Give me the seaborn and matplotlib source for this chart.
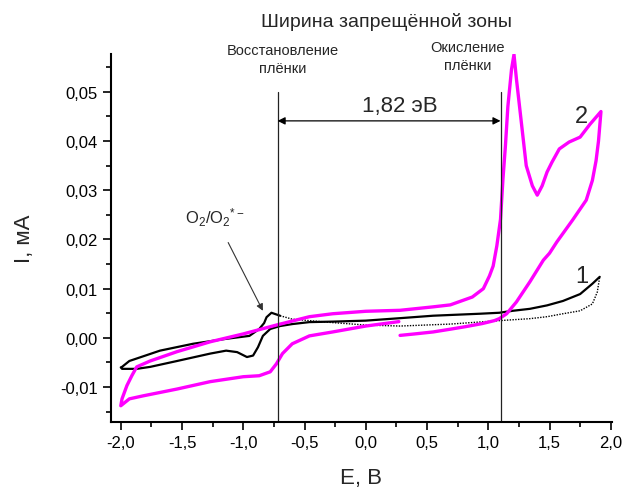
import matplotlib
matplotlib.use("Agg")
import matplotlib.pyplot as plt
import matplotlib.ticker as mticker
import seaborn as sns
import pandas as pd

sns.set_theme(style="ticks")
plt.rcParams["font.family"] = ["Liberation Sans", "DejaVu Sans"]
plt.rcParams["mathtext.fontset"] = "custom"
plt.rcParams["mathtext.rm"] = "Liberation Sans"
plt.rcParams["mathtext.it"] = "Liberation Sans"
plt.rcParams["mathtext.default"] = "regular"

# Curve 2 (film): one continuous scan, E in V, I in mA
curve2_E = [0.28, 0.40, 0.55, 0.70, 0.82, 0.95, 1.05, 1.09, 1.15, 1.23, 1.34, 1.45,
            1.50, 1.56, 1.69, 1.80, 1.85, 1.88, 1.90, 1.92,
            1.83, 1.75, 1.66, 1.58, 1.52, 1.48, 1.44, 1.40, 1.36, 1.31, 1.27, 1.23,
            1.21, 1.19, 1.16, 1.14, 1.12, 1.10, 1.07, 1.04, 1.01, 0.96, 0.87, 0.69,
            0.55, 0.28, 0.00, -0.27, -0.46, -0.73, -1.00, -1.27, -1.54, -1.76, -1.87,
            -1.91, -1.95, -1.99, -2.00,
            -1.93, -1.82, -1.54, -1.27, -1.00, -0.87, -0.78, -0.73, -0.68, -0.60,
            -0.46, -0.27, 0.00, 0.27]
curve2_I = [0.0005, 0.0008, 0.0012, 0.0018, 0.0023, 0.0029, 0.0035, 0.0039, 0.0049,
            0.0073, 0.0114, 0.0158, 0.0172, 0.0195, 0.0240, 0.0280, 0.0320, 0.0360,
            0.0400, 0.0460,
            0.0434, 0.0408, 0.0398, 0.0384, 0.0357, 0.0337, 0.0309, 0.0290, 0.0309,
            0.0350, 0.0438, 0.0526, 0.0576, 0.0546, 0.0470, 0.0390, 0.0323, 0.0241,
            0.0187, 0.0146, 0.0126, 0.0100, 0.0083, 0.0067, 0.0063, 0.0056, 0.0054,
            0.0049, 0.0043, 0.0026, 0.0008, -0.0008, -0.0028, -0.0047, -0.0059,
            -0.0077, -0.0097, -0.0124, -0.0138,
            -0.0124, -0.0118, -0.0104, -0.0089, -0.0079, -0.0077, -0.0069, -0.0053,
            -0.0032, -0.0012, 0.0004, 0.0012, 0.0024, 0.0033]

# Curve 1 (electrolyte): solid part of the loop
curve1_E = [1.91, 1.85, 1.75, 1.61, 1.48, 1.34, 1.20, 1.09, 0.93, 0.55, 0.28, 0.00,
            -0.27, -0.46, -0.60, -0.70, -0.78, -0.84, -0.88, -0.92, -0.97, -1.05,
            -1.14, -1.27, -1.54, -1.76, -1.87, -1.99, -2.00,
            -1.99, -1.93, -1.68, -1.41, -1.14, -0.95, -0.87, -0.83, -0.81, -0.77,
            -0.70]
curve1_I = [0.0124, 0.0110, 0.0089, 0.0075, 0.0066, 0.0059, 0.0055, 0.0051, 0.0049,
            0.0045, 0.0040, 0.0035, 0.0033, 0.0032, 0.0028, 0.0024, 0.0018, 0.0004,
            -0.0019, -0.0036, -0.0039, -0.0029, -0.0026, -0.0032, -0.0047, -0.0059,
            -0.0063, -0.0063, -0.0060,
            -0.0059, -0.0047, -0.0026, -0.0012, -0.0002, 0.0004, 0.0018, 0.0030,
            0.0042, 0.0051, 0.0045]
# Curve 1: faint return branch
curve1r_E = [-0.70, -0.60, -0.46, -0.27, 0.00, 0.28, 0.69, 1.09, 1.34, 1.48, 1.61,
             1.75, 1.85, 1.89, 1.91]
curve1r_I = [0.0045, 0.0038, 0.0035, 0.0031, 0.0026, 0.0024, 0.0028, 0.0035, 0.0039,
             0.0043, 0.0049, 0.0055, 0.0069, 0.0093, 0.0124]

x_ticks = [-2.0, -1.5, -1.0, -0.5, 0.0, 0.5, 1.0, 1.5, 2.0]
y_ticks = [-0.01, 0.00, 0.01, 0.02, 0.03, 0.04, 0.05]

e_reduction = -0.72
gap_ev = 1.82
e_oxidation = e_reduction + gap_ev

df2 = pd.DataFrame({"E": curve2_E, "I": curve2_I, "n": range(len(curve2_E))})
df1 = pd.DataFrame({"E": curve1_E, "I": curve1_I, "n": range(len(curve1_E))})
df1r = pd.DataFrame({"E": curve1r_E, "I": curve1r_I, "n": range(len(curve1r_E))})

fig = plt.figure(figsize=(6.26, 4.89), dpi=100)
ax = fig.add_axes([0.1773, 0.135, 0.8003, 0.7526])

sns.lineplot(data=df1r, x="E", y="I", sort=False, estimator=None, ax=ax,
             color="black", lw=1.0, linestyle=(0, (1, 1)))
sns.lineplot(data=df1, x="E", y="I", sort=False, estimator=None, ax=ax,
             color="black", lw=1.6)
sns.lineplot(data=df2, x="E", y="I", sort=False, estimator=None, ax=ax,
             color="#ff00ff", lw=2.4)

ax.set_xlim(-2.08, 2.01)
ax.set_ylim(-0.0171, 0.0577)

# band-gap markers
ax.plot([e_reduction, e_reduction], [-0.0171, 0.05], color="#222222", lw=0.9)
ax.plot([e_oxidation, e_oxidation], [-0.0171, 0.05], color="#222222", lw=0.9)
ax.annotate("", xy=(e_oxidation, 0.0441), xytext=(e_reduction, 0.0441),
            arrowprops=dict(arrowstyle="<|-|>", color="black", lw=0.9,
                            mutation_scale=11, shrinkA=0, shrinkB=0))
ax.text((e_reduction + e_oxidation) / 2 + 0.09, 0.0473,
        f"{gap_ev:.2f} эВ".replace(".", ","), ha="center", va="center", fontsize=16)

ax.text(-0.68, 0.0567, "Восстановление\nплёнки", ha="center", va="center",
        fontsize=10.5, linespacing=1.35)
ax.text(0.83, 0.0573, "Окисление\nплёнки", ha="center", va="center",
        fontsize=10.5, linespacing=1.35)

ax.annotate(r"O$_2$/O$_2$$^{*-}$", xy=(-0.84, 0.0055), xytext=(-1.23, 0.0246),
            ha="center", va="center", fontsize=12,
            arrowprops=dict(arrowstyle="-|>", color="#333333", lw=0.8,
                            mutation_scale=10, shrinkA=9, shrinkB=0))

ax.text(1.76, 0.0451, "2", ha="center", va="center", fontsize=17)
ax.text(1.76, 0.0125, "1", ha="center", va="center", fontsize=17)

fig.text(0.618, 0.955, "Ширина запрещённой зоны", ha="center", va="center",
         fontsize=14)

ax.set_xlabel("E, B", fontsize=16, labelpad=12)
ax.set_ylabel("I, мА", fontsize=16, labelpad=18)

ax.xaxis.set_major_locator(mticker.FixedLocator(x_ticks))
ax.xaxis.set_minor_locator(mticker.MultipleLocator(0.25))
ax.yaxis.set_major_locator(mticker.FixedLocator(y_ticks))
ax.yaxis.set_minor_locator(mticker.MultipleLocator(0.005))
ax.xaxis.set_major_formatter(mticker.FuncFormatter(lambda v, p: f"{v:.1f}".replace(".", ",")))
ax.yaxis.set_major_formatter(mticker.FuncFormatter(lambda v, p: f"{v:.2f}".replace(".", ",")))

ax.tick_params(axis="both", which="major", direction="out", length=6, width=1.2,
               labelsize=12, color="black", labelcolor="black")
ax.tick_params(axis="both", which="minor", direction="out", length=3.5, width=1.2,
               color="black")
sns.despine(ax=ax)
for s in ("left", "bottom"):
    ax.spines[s].set_linewidth(1.5)
    ax.spines[s].set_color("black")

fig.savefig("out.png", dpi=100)
